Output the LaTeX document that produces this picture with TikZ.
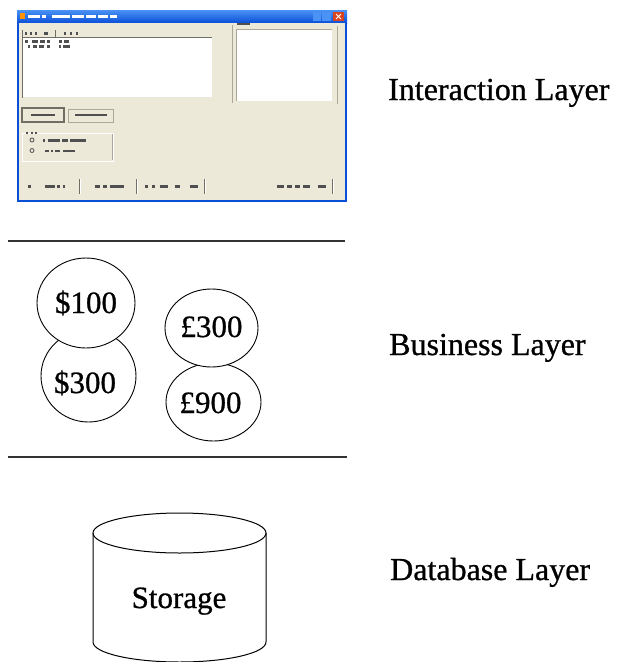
\documentclass[tikz,border=0pt]{standalone}
\usepackage{fontspec}
\setmainfont[FakeBold=0.8]{Liberation Serif}
\usetikzlibrary{shapes.geometric}

\definecolor{xpface}{HTML}{ECE9D8}
\definecolor{xpblue}{HTML}{0A4FD8}
\definecolor{xpbluelight}{HTML}{4A92F4}
\definecolor{xpred}{HTML}{D9441F}
\definecolor{xpshadow}{HTML}{ACA899}
\definecolor{xpdark}{HTML}{716F64}
\definecolor{scribble}{HTML}{505050}
\definecolor{rulecol}{HTML}{333333}

\tikzset{
  layerlabel/.style={anchor=base west, inner sep=0pt, font=\fontsize{32}{38}\selectfont},
  coin/.style={ellipse, draw=black, line width=0.9pt, fill=white, inner sep=0pt},
  cointext/.style={anchor=base, inner sep=0pt, font=\fontsize{31}{36}\selectfont},
  separator/.style={draw=rulecol, line width=2pt},
  cylline/.style={draw=black, line width=1pt},
  sunken/.style={draw=xpdark, line width=1pt},
  etched/.style={draw=xpshadow, line width=1pt},
}

\begin{document}
\begin{tikzpicture}[x=1pt,y=-1pt]
\useasboundingbox (0,0) rectangle (617,662);
\fill[white] (0,0) rectangle (617,662);

% ---------- dialog window ----------
\fill[xpblue] (17,10) rectangle (347,202);
\shade[top color=xpbluelight, bottom color=xpblue] (17,10) rectangle (347,23);
\fill[xpface] (19,23) rectangle (345,200);
% title bar icon and caption
\fill[orange!85!yellow] (20,13) rectangle (25,19);
\foreach \a/\b in {28/40,42/46,52/70,72/84,86/96,98/108,110/117}
  \fill[white] (\a,14.5) rectangle (\b,18);
% caption buttons
\fill[xpbluelight] (313,12) rectangle (321,21);
\fill[xpbluelight] (322,12) rectangle (331,21);
\fill[xpred] (333,12) rectangle (344,21);
\draw[white, line width=1pt] (336,14) -- (341,19) (341,14) -- (336,19);

% list view with column header
\fill[white] (23,37) rectangle (212,97);
\draw[sunken] (22.5,30) -- (22.5,98);
\draw[xpdark, line width=0.8pt] (23,37) -- (212,37);
\draw[xpdark, line width=0.8pt] (55,30) -- (55,37);
\foreach \a/\b in {25/27,30/32,35/37,44/48,64/66,70/72,76/78}
  \fill[scribble] (\a,32) rectangle (\b,34.5);
\foreach \a/\b in {25/28,32/38,40/45,47/50,59/62,64/69}
  \fill[scribble] (\a,40) rectangle (\b,42.5);
\foreach \a/\b in {28/30,33/37,39/44,47/50,59/61,63/70}
  \fill[scribble] (\a,45) rectangle (\b,47.5);

% right-hand group with empty box
\draw[etched] (232,25) -- (232,103);
\draw[etched] (337,26) -- (337,104);
\fill[scribble] (237,22.5) rectangle (250,24.5);
\fill[white] (236,29) rectangle (332,101);
\draw[xpshadow, line width=0.8pt] (236,101) -- (236,29) -- (332,29);

% push buttons
\draw[xpdark, line width=1.2pt, fill=xpface] (22,108) rectangle (64,122);
\fill[scribble] (31,114) rectangle (55,116);
\draw[xpshadow, line width=0.8pt, fill=xpface] (68,109) rectangle (113,122);
\fill[scribble] (75,114) rectangle (107,116);

% option group with two radio buttons
\draw[white, line width=0.8pt] (22,133) rectangle (113,161);
\draw[xpshadow, line width=1pt] (112.5,134) -- (112.5,160);
\foreach \a/\b in {26/28,31/33,35/37}
  \fill[scribble] (\a,131.5) rectangle (\b,134);
\draw[scribble, line width=0.8pt] (32,140) circle (2);
\foreach \a/\b in {43/45,48/60,62/68,70/86}
  \fill[scribble] (\a,139) rectangle (\b,141.5);
\draw[scribble, line width=0.8pt] (32,150.5) circle (2);
\foreach \a/\b in {45/49,51/53,55/60,63/75}
  \fill[scribble] (\a,149.5) rectangle (\b,152);

% status strip
\foreach \x in {79,136,204,332} {
  \draw[xpdark, line width=1pt] (\x,179) -- (\x,194);
  \draw[white, line width=0.8pt] (\x+1.2,179) -- (\x+1.2,194);
}
\foreach \a/\b in {28/31,45/55,57/60,63/65,95/100,103/107,110/124,
                   145/148,152/155,160/168,175/180,190/198,277/284,287/292,295/300,303/310,318/326}
  \fill[scribble] (\a,185) rectangle (\b,187.5);

% ---------- layer separators ----------
\draw[separator] (8,241) -- (345,241);
\draw[separator] (8,457) -- (347,457);

% ---------- business objects ----------
\node[coin, minimum width=95pt, minimum height=92pt] (c300d) at (88.5,376) {};
\node[coin, minimum width=98pt, minimum height=90pt] (c100d) at (86,303) {};
\node[coin, minimum width=95pt, minimum height=78pt] (c900p) at (213.5,402) {};
\node[coin, minimum width=93pt, minimum height=78pt] (c300p) at (211.5,328) {};

\node[cointext] (t100d) at (86,313) {\$100};
\node[cointext] (t300d) at (85,393) {\$300};
\node[cointext] (t300p) at (211.5,337) {£300};
\node[cointext] (t900p) at (210.5,413) {£900};

% ---------- storage cylinder ----------
\draw[cylline] (179.5,533) ellipse[x radius=86.5, y radius=20];
\draw[cylline] (93,533) -- (93,642)
  arc[start angle=180, end angle=0, x radius=86.5, y radius=20] -- (266,533);
\node[cointext] (storage) at (179,608) {Storage};

% ---------- layer names ----------
\node[layerlabel] (interaction) at (388,100) {Interaction Layer};
\node[layerlabel] (business) at (389,355) {Business Layer};
\node[layerlabel] (database) at (390,580) {Database Layer};
\end{tikzpicture}
\end{document}
